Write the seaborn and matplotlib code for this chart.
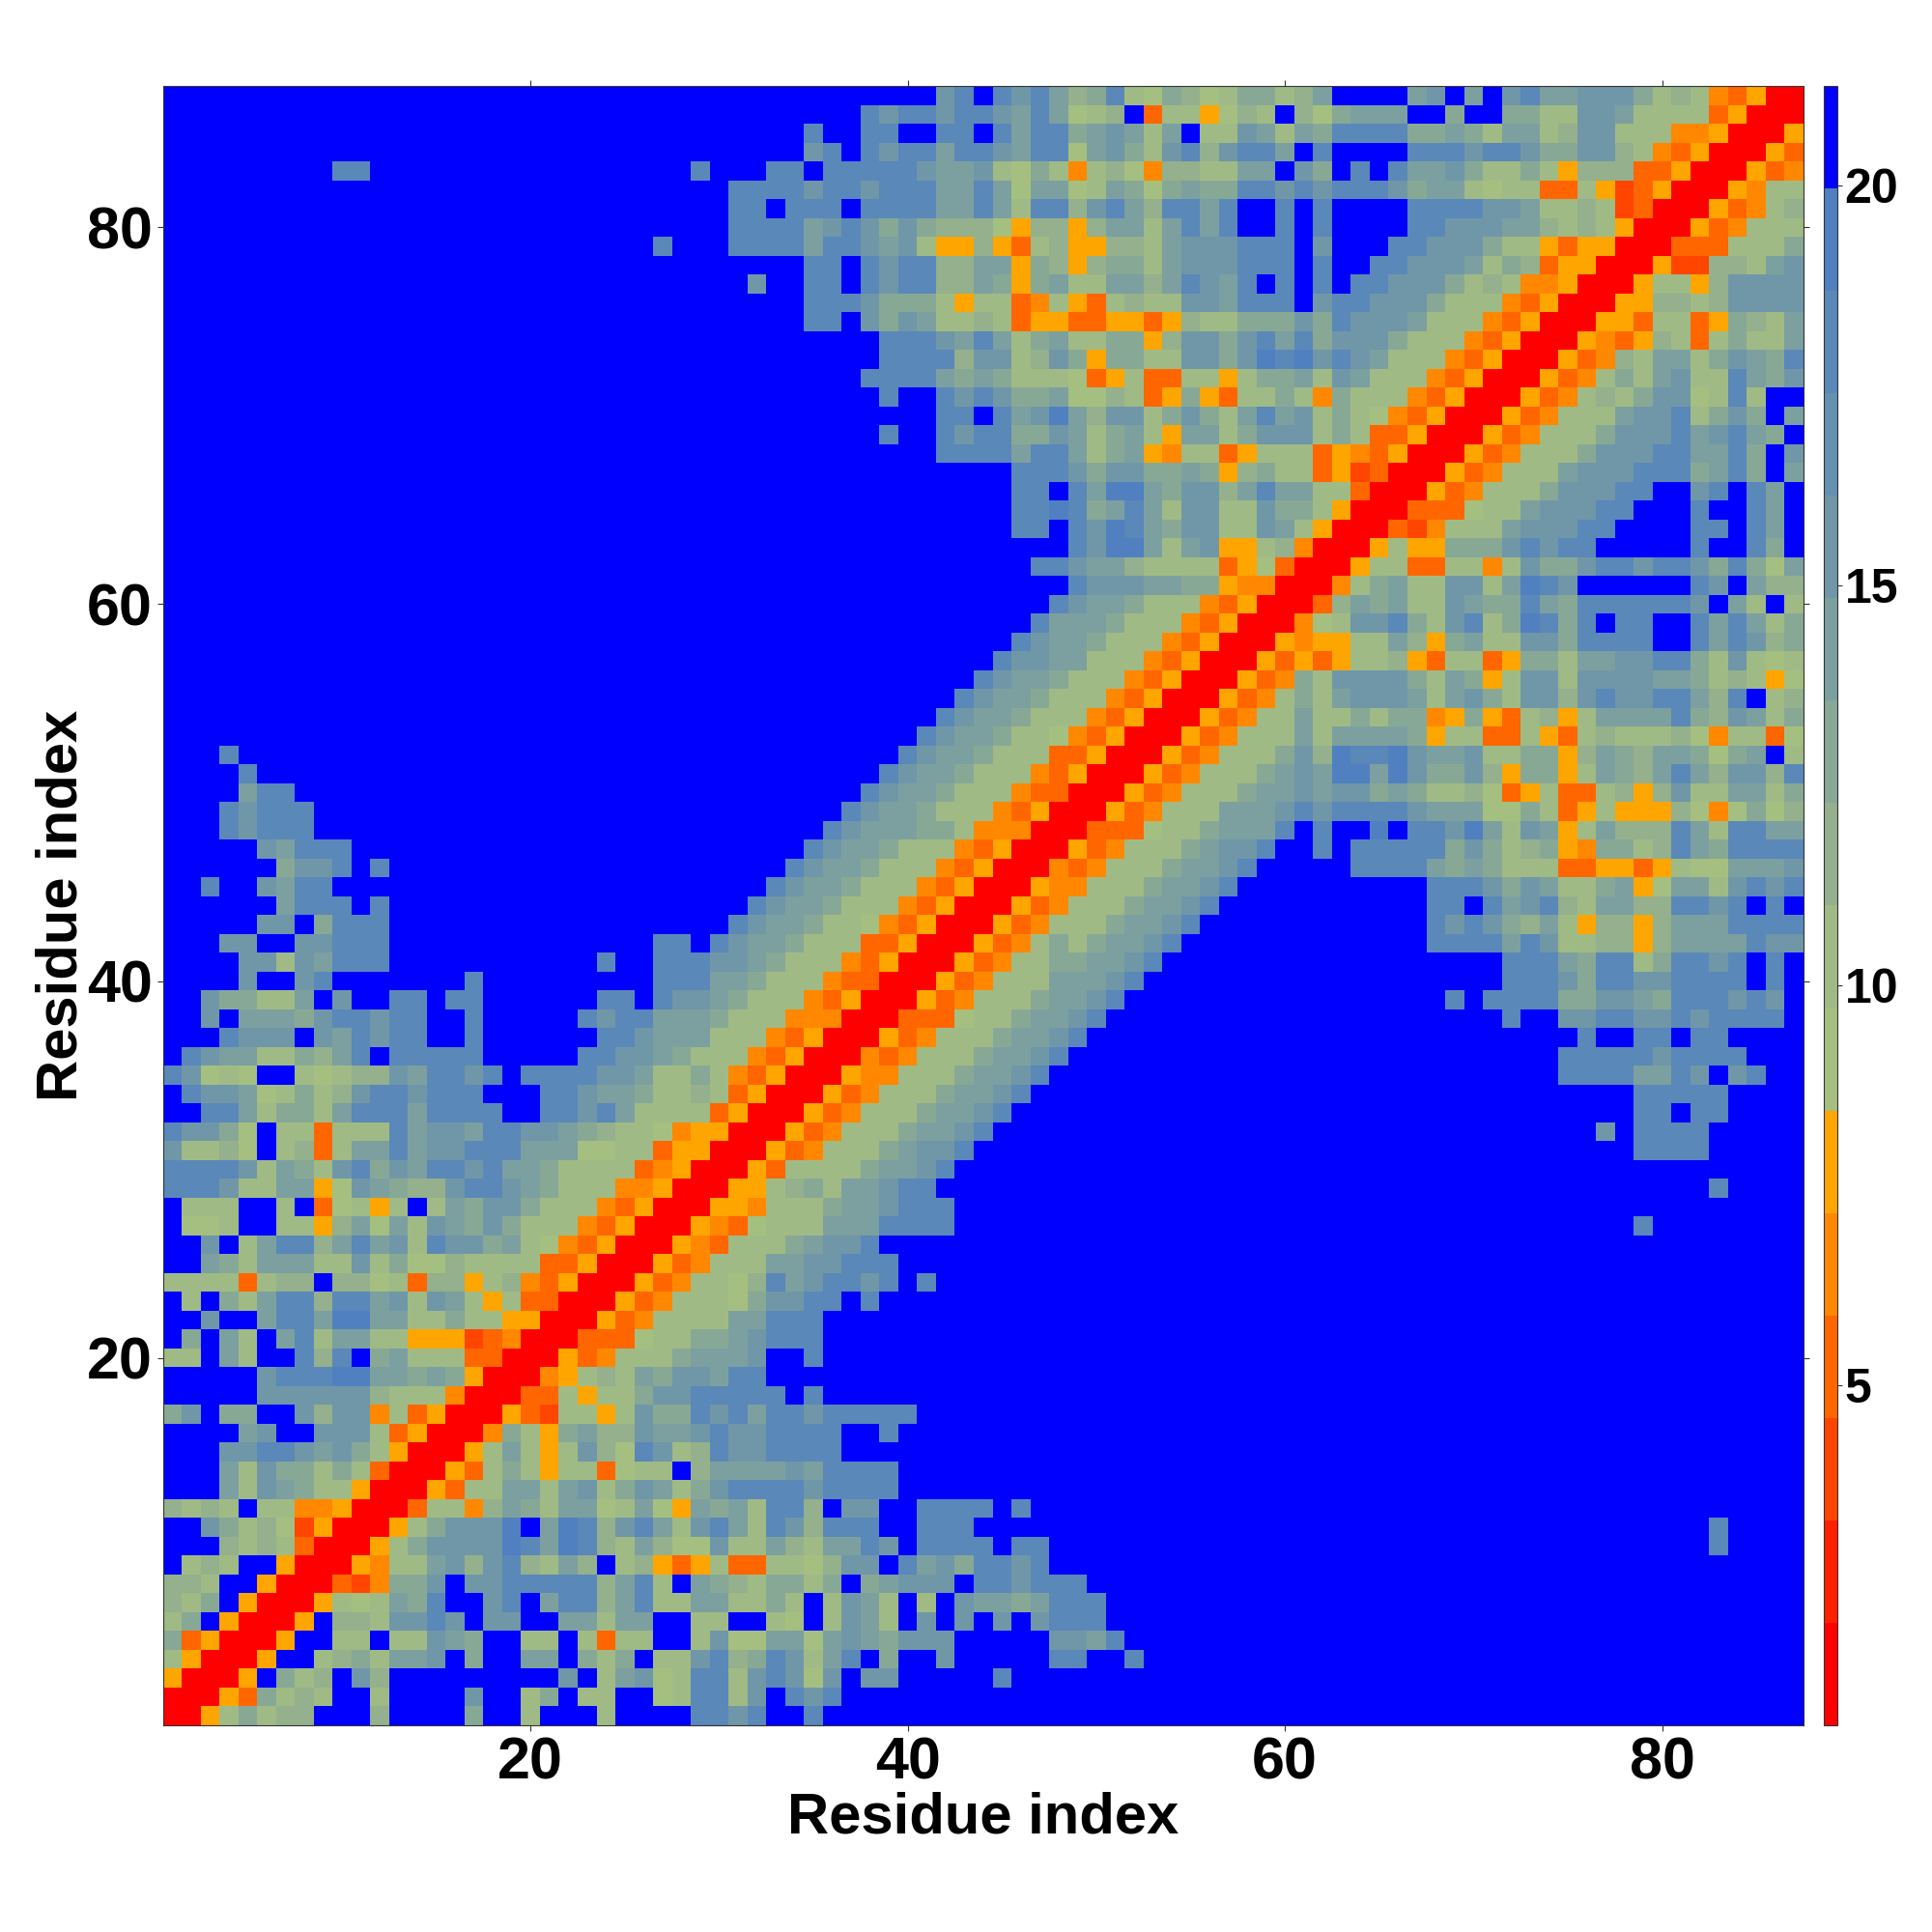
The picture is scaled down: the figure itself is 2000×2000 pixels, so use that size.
import numpy as np
import pandas as pd
import matplotlib
matplotlib.use("Agg")
import matplotlib.pyplot as plt
from matplotlib.colors import ListedColormap
import seaborn as sns

N_RESIDUES = 87
TICKS = [20, 40, 60, 80]
CBAR_TICKS = [5, 10, 15, 20]
VMIN, VMAX = 0.75, 21.25
COLORS = ["#ff0000", "#ff2000", "#ff4500", "#ff6600", "#ff8800", "#ffa500",
          "#a5bf80", "#a0ba85", "#94b08c", "#88a896", "#7ca09f",
          "#7097a8", "#6590b0", "#5a88b8", "#5080c0", "#0000ff"]
# character -> colour band
CODES = {"0": 0, "1": 1, "2": 2, "3": 3, "4": 4, "5": 5, "7": 6, "8": 7, "9": 8,
         "a": 9, "b": 10, "c": 11, "d": 13, "e": 14, "f": 15}

# residue j, first residue i, then the bands of i, i+1, ... (blue elsewhere); matrix is symmetric
CELLS = [
 (87,42,"cdfdcdb9a d87a978aa8 9bffffbcfb fcdbbccca8 9843500"),
 (86,38,"dcd dcddcbdb78 9f3885798f 97abbbffaf faa88ccb88 883500"),
 (85,35,"dffddf fddfdbddab cb8bf88cb8 baddddaaba 8bb89cc888 44500"),
 (84,35,"cdfdcd dbddcbdd7b ca8cd9cddb fdffffdddc ddcaacc984 3500"),
 (83,10,"dd"), (83,29,"d"),
 (83,33,"ddfddddd cbbc87a848 9749988bbf cafdfdbbca 88a8599933 500"),
 (82,31,"ddddcddcdd dbbdb7bb78 ba7abaaddc dcdddcabb8 7883385235 00"),
 (81,31,"ddfdddfddd dbbdb8dd9c db9ddbdffd fdffffdddd ccb8898230 0"),
 (80,31,"ddddbcdcac a999759959 bb8bdbdffd fdffffddcc cbb9898500"),
 (79,27,"d"),
 (79,31,"ddddbddcbc 8559538955 998bcccddd fcfffddccc a88535500"),
 (78,35,"ddfdcd d99bb5a959 aa8bcccddd fdffddcccb 8a935500"),
 (77,32,"c"),
 (77,35,"ddfdcd d99ba5ab88 bb9bdcbdfd fdfddccca8 9844500"),
 (76,35,"dddcaa a858834853 8988ccbddd fcddccca88 843500"),
 (75,35,"ddfcac b889835533 5535988aaa cadcccb888 43500"),
 (74,39,"dd dcbdb8ab88 aa59ccacdb daccca8884 3500"),
 (73,39,"dd dd9cc89ca5 aa88ccaced ecdcb88843 500"),
 (72,38,"ddd dbaba88873 58338858aa b8cb888435 00"),
 (71,39,"df fdcdcaab77 9835a5388a 84a8884350 0"),
 (70,42,"ddfdbceb9 cc8aca8bdb c8a8743500"),
 (69,39,"df fdcddaacb8 ab85bb8acc c8a833500"),
 (68,42,"ddddbddb8 ab54883588 83543500"),
 (67,46,"dddca ccaaba59a8 8352300"),
 (66,46,"ddfdb eebacc9bdb b88300"),
 (65,46,"ddeda bdb8cc88ca a8500"),
 (64,46,"ddfdc edbacc88cb 8500"),
 (63,49,"dc eeb8bc5589 400"),
 (62,47,"ddcb b988883573 00"),
 (61,49,"dc ccbbaa5440 0"),
 (60,48,"dcb ba88843500"),
 (59,47,"dbbb a88843500"),
 (58,46,"dcbba 88843500"),
 (57,45,"dccbb8 8843500"),
 (56,44,"dcbba88 843500"),
 (55,43,"dcbba888 43500"),
 (54,42,"dcbba8884 3500"),
 (53,41,"dcbba88743 500"),
 (52,4,"d"), (52,40,"d cbba888335 00"),
 (51,5,"d"), (51,39,"dc bba8884350 0"),
 (50,5,"bdd"), (50,38,"dcb ba88843300"),
 (49,4,"dcddd"), (49,37,"dcbb a88843500"),
 (48,4,"dcddd"), (48,36,"dcbbb aa844400"),
 (47,6,"cbddd"), (47,35,"dcbba8 8843500"),
 (46,7,"accd"), (46,12,"d"), (46,34,"dcbba88 843500"),
 (45,3,"d"), (45,6,"cbdd"), (45,33,"dcbba888 43500"),
 (44,7,"bddd"), (44,12,"d"), (44,32,"dcbba8884 3500"),
 (43,6,"ccfaddd"), (43,31,"dcbba88743 500"),
 (42,4,"ccffccddd"), (42,27,"dd"), (42,30,"dcbba88833500"),
 (41,5,"cc8cbddd"), (41,24,"d"), (41,27,"ddd"), (41,30,"ccba88843500"),
 (40,5,"cffcd"), (40,17,"d"), (40,27,"ddd"), (40,30,"bba88843300"),
 (39,3,"caa88bfc"), (39,13,"dd"), (39,16,"dd"), (39,24,"dd"), (39,27,"dcc"), (39,30,"ba88843500"),
 (38,3,"cfbbbacddcdd"), (38,17,"d"), (38,23,"dcddbbb"), (38,30,"a88844400"),
 (37,4,"dcccfcbdcdd"), (37,17,"d"), (37,24,"ddcbbb"), (37,30,"88843500"),
 (36,2,"dcbb88a9bdfddddd"), (36,23,"ddccba8"), (36,30,"8843500"),
 (35,1,"dc787ff87899cbddcd"), (35,20,"ddddccb88a"), (35,30,"843500"),
 (34,2,"dccb78a89cddcddd"), (34,21,"ddcbba889"), (34,30,"83500"),
 (33,3,"ddb8aa8bdddbdddd"), (33,21,"ddcdb8888"), (33,30,"3500"),
 (32,1,"dcca7f8838 88dbccbddc cba9887455 00"),
 (31,1,"c8897f8938 bbdbccdddb bb77883550 0"),
 (30,1,"ddddc8ba8c dacbddcdbb a888834500"),
 (29,1,"dddc88bb57 cba99cddcb a88844500"),
 (28,1,"f888ff8f37 858f8bacca 88843500"),
 (27,1,"f778ff8859 b7b8cbaca8 8843500"),
 (26,1,"ffcf8bdd9b dbc8dccab8 743500"),
 (25,1,"ffba8bbb88 c8a7798888 33500"),
 (24,1,"88883899f9 9783995894 3500"),
 (23,1,"f8fa8bdd9d dbc8cb8583 300"),
 (22,1,"ffcffbddbe ebb88a8855 00"),
 (21,1,"fafb8fbd8b b885552340 0"),
 (20,1,"88fb8ffd9d fab8883300"),
 (19,1,"fffffcddde ebbaba500"),
 (18,1,"fffffccccc c9888400"),
 (17,1,"acfaaffc9c c483500"),
 (16,1,"ffffbcffcc c83500"),
 (15,1,"fffccddcbc a8500"),
 (14,1,"fffb8caa8a 8300"),
 (13,1,"fffb8cba88 500"),
 (12,1,"9898f88445 00"),
 (11,1,"ffca897250 0"),
 (10,1,"fff9898300"),
 (9,1,"f898ff500"),
 (8,1,"998ff500"),
 (7,1,"98af500"),
 (6,1,"8af500"),
 (5,1,"a3500"),
 (4,1,"8500"),
 (3,1,"500"),
 (2,1,"00"),
 (1,1,"0"),
]

band = (VMAX - VMIN) / len(COLORS)
dist = np.full((N_RESIDUES, N_RESIDUES), VMIN + band * (len(COLORS) - 0.5))
for j, first, codes in CELLS:
    for k, ch in enumerate(codes.replace(" ", "")):
        i = first + k
        if i <= j:
            v = VMIN + band * (CODES[ch] + 0.5)
            dist[j - 1, i - 1] = v
            dist[i - 1, j - 1] = v

residues = np.arange(1, N_RESIDUES + 1)
df = pd.DataFrame(dist, index=residues, columns=residues).iloc[::-1]

sns.set_theme(style="white")
plt.rcParams["font.family"] = ["Liberation Sans", "DejaVu Sans"]
plt.rcParams["font.weight"] = "bold"

W = H = 2000
fig = plt.figure(figsize=(20, 20), dpi=100, facecolor="white")
ax = fig.add_axes([168.5 / W, 1 - 1786 / H, (1867 - 168.5) / W, (1786 - 89) / H])
cax = fig.add_axes([1888 / W, 1 - 1786 / H, 14 / W, (1786 - 89) / H])

sns.heatmap(df, ax=ax, cbar_ax=cax, cmap=ListedColormap(COLORS), vmin=VMIN, vmax=VMAX,
            xticklabels=False, yticklabels=False, square=False, rasterized=True)

ax.set_xticks([t - 0.5 for t in TICKS])
ax.set_xticklabels([str(t) for t in TICKS], fontsize=44, fontweight="bold", color="black")
ax.set_yticks([N_RESIDUES - t + 0.5 for t in TICKS])
ax.set_yticklabels([str(t) for t in TICKS], fontsize=44, fontweight="bold", color="black", rotation=0)
ax.tick_params(axis="both", which="major", direction="out", length=4.5, width=0.8, color="#333333",
               top=True, right=True, bottom=True, left=True)
ax.tick_params(axis="x", pad=4)
ax.tick_params(axis="y", pad=3)
ax.set_xlabel("")
ax.set_ylabel("")
fig.text(1018 / W, 1 - 1882 / H, "Residue index", fontsize=43, fontweight="bold",
         ha="center", va="center", color="black")
fig.text(64 / W, 1 - 937 / H, "Residue index", fontsize=43, fontweight="bold",
         ha="center", va="center", rotation=90, color="black")
for s in ax.spines.values():
    s.set_visible(True)
    s.set_linewidth(0.8)
    s.set_color("#333333")

cbar = ax.collections[0].colorbar
cbar.set_ticks(CBAR_TICKS)
cbar.set_ticklabels([str(t) for t in CBAR_TICKS])
cax.tick_params(axis="y", which="major", direction="out", length=3.5, width=0.8, color="#333333",
                labelsize=36, labelcolor="black", pad=2, right=True, left=False)
for lab in cax.get_yticklabels():
    lab.set_fontweight("bold")
cbar.outline.set_visible(True)
cbar.outline.set_linewidth(0.8)
cbar.outline.set_edgecolor("#333333")

fig.savefig("out.png", dpi=100, facecolor="white")
